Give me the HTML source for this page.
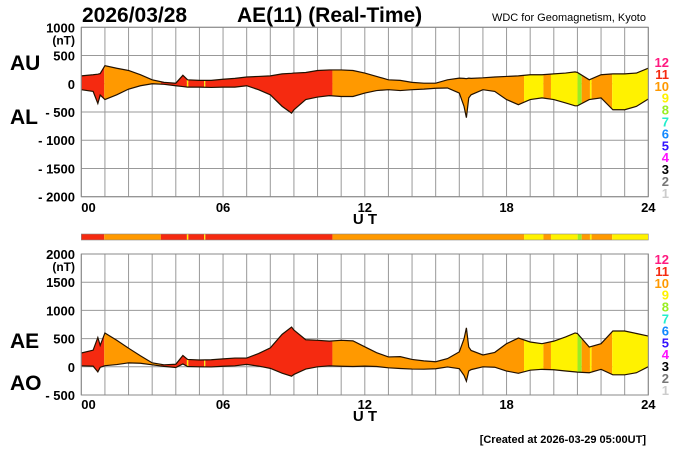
<!DOCTYPE html>
<html><head><meta charset="utf-8"><style>
body{margin:0;background:#fff;}
svg{display:block;font-family:"Liberation Sans",Arial,sans-serif;}
</style></head><body>
<svg id="c" width="700" height="450" viewBox="0 0 700 450">
<rect width="700" height="450" fill="#fff"/>
<text x="82" y="22" font-size="21" font-weight="bold">2026/03/28</text>
<text x="237" y="22" font-size="21" font-weight="bold">AE(11) (Real-Time)</text>
<text x="646" y="21" font-size="11" text-anchor="end">WDC for Geomagnetism, Kyoto</text>
<text x="10" y="70" font-size="21" font-weight="bold">AU</text>
<text x="10" y="124" font-size="21" font-weight="bold">AL</text>
<text x="10" y="348" font-size="21" font-weight="bold">AE</text>
<text x="10" y="390" font-size="21" font-weight="bold">AO</text>
<text x="646" y="443" font-size="11" font-weight="bold" text-anchor="end">[Created at 2026-03-29 05:00UT]</text>
<g id="g"></g>
</svg>
<script>
const times=[0,0.5,0.7,0.8,1,1.5,2,2.5,3,3.5,4,4.3,4.5,5,5.5,6,6.5,7,7.5,8,8.5,8.9,9,9.5,10,10.5,11,11.5,12,12.5,13,13.5,14,14.5,15,15.5,16,16.2,16.3,16.4,16.5,17,17.5,18,18.5,19,19.5,20,20.5,20.9,21,21.5,22,22.5,23,23.5,24];
const auValues=[140,160,170,180,320,275,235,160,70,25,10,150,70,60,60,80,95,120,130,140,175,185,190,200,235,245,245,235,190,130,70,60,25,10,10,70,100,95,90,100,95,105,120,130,140,160,160,175,190,210,200,70,160,175,175,190,275];
const alValues=[-105,-135,-350,-200,-280,-195,-95,-35,0,-10,-35,-50,-60,-60,-65,-60,-60,-35,-105,-195,-400,-520,-460,-280,-235,-210,-225,-225,-165,-120,-105,-120,-105,-95,-80,-75,-165,-400,-600,-250,-195,-105,-135,-280,-370,-280,-250,-280,-340,-390,-390,-280,-250,-460,-460,-400,-270];
const segStart=[0,0.97,3.37,4.47,4.53,5.2,5.25,10.63,18.74,19.56,19.88,21.01,21.18,21.53,21.6,22.47];
const segEnd=[0.97,3.37,4.47,4.53,5.2,5.25,10.63,18.74,19.56,19.88,21.01,21.18,21.53,21.6,22.47,24];
const segLevel=[11,10,11,9,11,9,11,10,9,10,9,8,10,9,10,9];
const levelLabels=["12","11","10","9","8","7","6","5","4","3","2","1"];
const levelColors={12:"#ff1a80",11:"#f52a10",10:"#ff9900",9:"#fff200",8:"#99ee22",7:"#22eecc",6:"#1188ff",5:"#3311ff",4:"#ff11ff",3:"#000000",2:"#777777",1:"#cccccc"};
const topTicks=[1000,500,0,-500,-1000,-1500,-2000];
const botTicks=[2000,1500,1000,500,0,-500];
const xTicks=[0,6,12,18,24];

const NS="http://www.w3.org/2000/svg";
const g=document.getElementById('g');
function el(t,a,p){const e=document.createElementNS(NS,t);for(const k in a)e.setAttribute(k,a[k]);(p||g).appendChild(e);return e;}
const X0=81.3,X1=648.3;
const xs=h=>X0+(X1-X0)*h/24;
function panel(name,yTop,yBot,vMax,vMin,upper,lower,ticks,legendTop,xLabY){
  const ys=v=>yTop+(vMax-v)/(vMax-vMin)*(yBot-yTop);
  const pg=el('g',{});
  
  
  // grid
  for(let h=0;h<=24;h++){const l=el('line',{x1:xs(h),x2:xs(h),y1:yTop,y2:yBot,stroke:'#999','stroke-width':1},pg);
    }
  ticks.forEach(v=>{const l=el('line',{x1:X0,x2:X1,y1:ys(v),y2:ys(v),stroke:'#999','stroke-width':1},pg);
    
    const t=el('text',{x:75,y:ys(v)+5,'font-size':13,'font-weight':'bold','text-anchor':'end'},pg);
    t.textContent=v<0?'- '+(-v):String(v);
    });
  const nt=el('text',{x:75,y:ys(ticks[0])+17,'font-size':12,'font-weight':'bold','text-anchor':'end'},pg);
  nt.textContent='(nT)';
  // area
  let d='M'+times.map((t,i)=>xs(t)+','+ys(upper[i])).join('L');
  for(let i=times.length-1;i>=0;i--)d+='L'+xs(times[i])+','+ys(lower[i]);d+='Z';
  segStart.forEach((s,i)=>{
    const id=name+'clip'+i;
    const cp=el('clipPath',{id:id},pg);
    el('rect',{x:xs(s),y:yTop,width:Math.max(0.8,xs(segEnd[i])-xs(s)),height:yBot-yTop},cp);
    const p=el('path',{d:d,fill:levelColors[segLevel[i]],'clip-path':'url(#'+id+')'},pg);
    
  });
  [upper,lower].forEach((arr,k)=>{
    const p=el('polyline',{points:times.map((t,i)=>xs(t)+','+ys(arr[i])).join(' '),fill:'none',stroke:'#221100','stroke-width':1.2},pg);
    
  });
  const fr=el('rect',{x:X0,y:yTop,width:X1-X0,height:yBot-yTop,fill:'none',stroke:'#888','stroke-width':1},pg);
  
  xTicks.forEach(h=>{const t=el('text',{x:xs(h),y:xLabY,'font-size':13,'font-weight':'bold','text-anchor':h===0?'start':'middle'},pg);
    t.textContent=String(h).padStart(2,'0');});
  const ut=el('text',{x:365,y:xLabY+12,'font-size':15,'font-weight':'bold','text-anchor':'middle'},pg);
  ut.textContent='U T';
  levelLabels.forEach((lb,i)=>{const t=el('text',{x:669,y:legendTop+i*11.9,'font-size':13,'font-weight':'bold','text-anchor':'end',fill:levelColors[+lb]},pg);
    t.textContent=lb;});
}
panel('au-al',27.3,196.7,1000,-2000,auValues,alValues,topTicks,67,212);
const aeValues=auValues.map((u,i)=>u-alValues[i]);
const aoValues=auValues.map((u,i)=>(u+alValues[i])/2);
// color bar
segStart.forEach((s,i)=>{const r=el('rect',{x:xs(s),y:234,width:Math.max(0.8,xs(segEnd[i])-xs(s)),height:6,fill:levelColors[segLevel[i]]});
  });
const cb=el('rect',{x:X0,y:234,width:X1-X0,height:6,fill:'none',stroke:'#888','stroke-width':0.6});

panel('ae-ao',254,395,2000,-500,aeValues,aoValues,botTicks,264,409);
</script>
</body></html>
